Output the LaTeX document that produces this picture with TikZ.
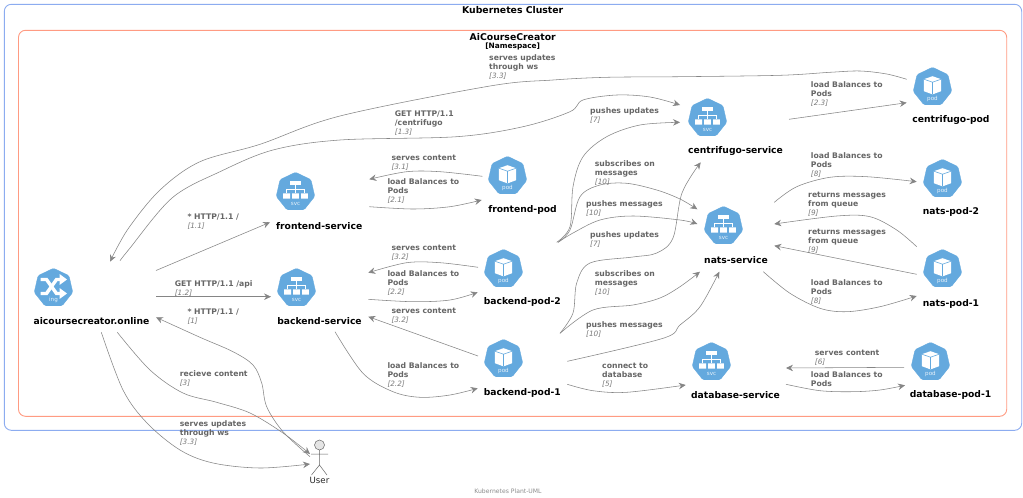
\documentclass[tikz,border=0pt]{standalone}
\usepackage{fontspec}
\setmainfont{DejaVu Sans}
\usetikzlibrary{arrows.meta,shapes.geometric,calc}
\definecolor{kblue}{HTML}{64A9DE}
\definecolor{frameblue}{HTML}{8CACF0}
\definecolor{framered}{HTML}{FF9B82}
\definecolor{edgegrey}{HTML}{858585}
\definecolor{lblgrey}{HTML}{666666}
\definecolor{numgrey}{HTML}{7A7A7A}
\newcommand\lnum[1]{\fontsize{7.3}{9}\selectfont\mdseries\itshape\color{numgrey}#1}
\newcommand\conn[5]{\draw[edge] plot[smooth,tension=.55] coordinates {([shift={(#2)}]#1.center) #3 ([shift={(#5)}]#4.center)};}
\newcommand\sconn[4]{\draw[edge] ([shift={(#2)}]#1.center) -- ([shift={(#4)}]#3.center);}
\tikzset{
  edge/.style={draw=edgegrey,line width=.55pt,-{Stealth[length=7pt,width=6.5pt,inset=2.4pt]}},
  ent/.style={regular polygon,regular polygon sides=7,minimum size=39.6pt,inner sep=0pt,outer sep=0pt,fill=kblue,draw=kblue,line width=.3pt,rounded corners=1.5pt},
  entlbl/.style={font=\fontsize{9.2}{12}\selectfont\bfseries,text=black,inner sep=0pt},
  elbl/.style={anchor=north west,align=left,inner sep=0pt,yshift=3.3pt,text=lblgrey,
     font=\fontsize{7.7}{9}\selectfont\bfseries,execute at begin node=\rule{0pt}{6.5pt}},
  frame/.style={rounded corners=7pt,line width=.9pt},
  gltxt/.style={font=\fontsize{5.6}{7}\selectfont,text=white!85!kblue,inner sep=0pt},
  svcglyph/.pic={
    \fill[white] (-5.3,-10.7) rectangle (5.3,-6.7);
    \draw[white,line width=.7pt] (0,-6.7)--(0,1.3) (-9,1.3)--(-9,-2.7)--(9,-2.7)--(9,1.3);
    \fill[white] (-12.3,1.3) rectangle (-5.5,6.5) (-3.4,1.3) rectangle (3.4,6.5) (5.5,1.3) rectangle (12.3,6.5);
    \node[gltxt] (t) at (0,12) {svc};
  },
  podglyph/.pic={
    \fill[white] (0,-10.8)--(8.6,-7.8)--(8.6,4.2)--(0,7.4)--(-8.6,4.2)--(-8.6,-7.8)--cycle;
    \draw[kblue,line width=.6pt] (-8.6,-7.8)--(0,-4.8)--(8.6,-7.8) (0,-4.8)--(0,7.4);
    \node[gltxt] (t) at (0,12) {pod};
  },
  ingglyph/.pic={
    \draw[white,line width=3.4pt] (-13,-8.5)--(-7,-8.5)--(3,5.5)--(8,5.5);
    \draw[white,line width=3.4pt] (-13,5.5)--(-7,5.5)--(3,-8.5)--(8,-8.5);
    \fill[white] (6,-14)--(13.5,-8.5)--(6,-3)--cycle (6,0)--(13.5,5.5)--(6,11)--cycle;
    \node[gltxt] (t) at (0,12.2) {ing};
  }
}
\begin{document}
\begin{tikzpicture}[x=1pt,y=-1pt]
\useasboundingbox (0,0) rectangle (1023,498);
\fill[white] (0,0) rectangle (1023,498);
\draw[frame,draw=frameblue] (4.3,4.3) rectangle (1021.7,430.3);
\draw[frame,draw=framered] (18.5,30.3) rectangle (1006.7,416.3);
\node[font=\fontsize{9.3}{12}\selectfont\bfseries,inner sep=0pt] (clustertitle) at (512.7,10.5) {Kubernetes Cluster};
\node[font=\fontsize{9.3}{12}\selectfont\bfseries,inner sep=0pt] (nstitle) at (512.7,37) {AiCourseCreator};
\node[font=\fontsize{7.4}{9}\selectfont\bfseries,inner sep=0pt] (nssub) at (512.7,46.5) {[Namespace]};
\node[font=\fontsize{6.1}{8}\selectfont,text=black!45,inner sep=0pt] (footer) at (508,491) {Kubernetes Plant-UML};

% entities
\node[ent] (ing) at (53.5,288) {};
\node[ent] (fs) at (295.5,192) {};
\node[ent] (bs) at (296.5,288) {};
\node[ent] (fp) at (507.5,176) {};
\node[ent] (bp2) at (503.5,269) {};
\node[ent] (bp1) at (503.5,359) {};
\node[ent] (cs) at (707.5,118) {};
\node[ent] (ns) at (723.5,226) {};
\node[ent] (db) at (711.5,362) {};
\node[ent] (cp) at (932.5,87) {};
\node[ent] (np2) at (942.5,179) {};
\node[ent] (np1) at (942.5,269) {};
\node[ent] (dp) at (930.5,362) {};
\pic (gi) at (ing.center) {ingglyph};
\pic (g1) at (fs.center) {svcglyph};
\pic (g2) at (bs.center) {svcglyph};
\pic (g3) at (cs.center) {svcglyph};
\pic (g4) at (ns.center) {svcglyph};
\pic (g5) at (db.center) {svcglyph};
\pic (p1) at (fp.center) {podglyph};
\pic (p2) at (bp2.center) {podglyph};
\pic (p3) at (bp1.center) {podglyph};
\pic (p4) at (cp.center) {podglyph};
\pic (p5) at (np2.center) {podglyph};
\pic (p6) at (np1.center) {podglyph};
\pic (p7) at (dp.center) {podglyph};
\node[entlbl] (ingL) at (91.5,320.7) {aicoursecreator.online};
\node[entlbl] (fsL) at (319.2,226) {frontend-service};
\node[entlbl] (bsL) at (319.5,320.7) {backend-service};
\node[entlbl] (fpL) at (522.5,210) {frontend-pod};
\node[entlbl] (bp2L) at (522.3,301.7) {backend-pod-2};
\node[entlbl] (bp1L) at (522.3,393.3) {backend-pod-1};
\node[entlbl] (csL) at (735.5,151) {centrifugo-service};
\node[entlbl] (nsL) at (736,259.7) {nats-service};
\node[entlbl] (dbL) at (735.5,395.3) {database-service};
\node[entlbl] (cpL) at (951,120.3) {centrifugo-pod};
\node[entlbl] (np2L) at (951,212) {nats-pod-2};
\node[entlbl] (np1L) at (951,303.7) {nats-pod-1};
\node[entlbl] (dpL) at (950.5,395.3) {database-pod-1};

% actor
\coordinate (user) at (319.5,460);
\draw[draw=black!60,fill=black!10,line width=.5pt] (319.5,445) circle (5);
\draw[draw=black!60,line width=.5pt] (319.5,450)--(319.5,465) (311,454)--(328,454) (311.5,475)--(319.5,465)--(327,475);
\node[font=\fontsize{8.6}{11}\selectfont,inner sep=0pt,text=black!85] (userL) at (319.5,480) {User};

% connectors
\sconn{ing}{102.5,-17.5}{fs}{-25.5,30.3}
\sconn{ing}{102.5,8.7}{bs}{-25.5,8.7}
\conn{user}{-9.5,-3.3}{(283,431.7) (266.7,406.7) (261.7,383) (253,365) (233,351.7) (200,337.3)}{ing}{102.5,29.3}
\conn{ing}{63.8,44.3}{(150,370) (183,393) (216.7,402.3) (250,413) (283,433)}{user}{-9.5,-6}
\conn{ing}{47.8,44.3}{(123,390) (147,423) (180,450) (213,463) (260,468)}{user}{-9.5,4}
\conn{cp}{-25.8,-7.7}{(886.7,74) (860,71) (830,72.3) (780,75.3) (680,76.7) (606.7,77.3) (553,80) (490,86) (340,116) (260,144.3) (200,161.7) (160,190) (128,229)}{ing}{56.5,-26.3}
\conn{ing}{66.5,-27.3}{(129,249.3) (172,198) (220,171.7) (273,150) (340,140) (456.7,136.7) (523,126.7) (570,111.7) (583,100) (616.7,95) (650,97)}{cs}{-27.5,-13}
\conn{fp}{-25.2,0.3}{(440,171.7) (406.7,171.7)}{fs}{73.8,-12.7}
\conn{fs}{73.8,14.7}{(413,209) (450,206.7)}{fp}{-25.8,24}
\conn{bp2}{-25.5,-1.7}{(440,262.7) (406.7,262.7)}{bs}{71.8,-15.3}
\conn{bs}{71.8,11.3}{(413,301.7) (450,300)}{bp2}{-25.8,23.3}
\sconn{bp1}{-25.5,-3}{bs}{71.8,28.7}
\conn{bs}{38.5,43.7}{(363,373.3) (393,391.7) (420,397.3) (450,395)}{bp1}{-25.8,29.3}
\conn{bp2}{53.2,-26.7}{(570,226.7) (573,186.7) (583,156.7) (606.7,136.7) (640,125)}{cs}{-27.5,4.3}
\conn{bp2}{54.5,-26.7}{(570,230) (580,196.7) (600,185) (626.7,183.3) (656.7,190) (680,199)}{ns}{-26.2,-16.7}
\conn{bp2}{54.5,-26.7}{(573,233) (600,220) (633,216) (680,220)}{ns}{-26.2,-2}
\conn{bp1}{56.5,-25.7}{(573,313) (576.7,283) (590,263) (633,257) (656.7,253) (673,238) (682,193)}{cs}{-6.8,44.3}
\conn{bp1}{56.5,-25.7}{(593,310) (633,305) (660,298) (680,286.7)}{ns}{-23.5,45.7}
\conn{bp1}{63.8,2.3}{(663,338.3) (680,325) (700,306.7)}{ns}{-4.2,45.7}
\conn{bp1}{63.8,25.3}{(593,390.7) (626.7,392.3)}{db}{-25.8,23}
\sconn{cs}{81.5,1.3}{cp}{-25.8,15.7}
\conn{ns}{50.8,-23.7}{(796.7,186.7) (830,177.3) (866.7,176.7)}{np2}{-25.8,2.7}
\conn{np1}{-25.8,-22.3}{(896.7,230) (870,216.7) (836.7,216)}{ns}{50.8,-2}
\sconn{np1}{-25.8,5.3}{ns}{50.8,19.7}
\conn{ns}{39.8,45.7}{(790,293.3) (820,308.3) (846.7,311.7) (880,306.7)}{np1}{-25.8,27}
\sconn{dp}{-26.5,5.3}{db}{74.5,6}
\conn{db}{74.5,22.3}{(820,390.7) (853,391.7) (880,390)}{dp}{-25.5,23.3}

% connector labels
\node[elbl] (l01) at (187.3,216.7) {* HTTP/1.1 /\\\lnum{[1.1]}};
\node[elbl] (l02) at (174.7,283.3) {GET HTTP/1.1 /api\\\lnum{[1.2]}};
\node[elbl] (l03) at (187.3,311.7) {* HTTP/1.1 /\\\lnum{[1]}};
\node[elbl] (l04) at (179.7,373.3) {recieve content\\\lnum{[3]}};
\node[elbl] (l05) at (179.7,423.3) {serves updates\\through ws\\\lnum{[3.3]}};
\node[elbl] (l06) at (489,57.7) {serves updates\\through ws\\\lnum{[3.3]}};
\node[elbl] (l07) at (394.7,114.3) {GET HTTP/1.1\\/centrifugo\\\lnum{[1.3]}};
\node[elbl] (l08) at (590,110.7) {pushes updates\\\lnum{[7]}};
\node[elbl] (l09) at (391.3,158.3) {serves content\\\lnum{[3.1]}};
\node[elbl] (l10) at (387.3,181.7) {load Balances to\\Pods\\\lnum{[2.1]}};
\node[elbl] (l11) at (594.7,163.3) {subscribes on\\messages\\\lnum{[10]}};
\node[elbl] (l12) at (586,204) {pushes messages\\\lnum{[10]}};
\node[elbl] (l13) at (590,234.7) {pushes updates\\\lnum{[7]}};
\node[elbl] (l14) at (391.3,248.3) {serves content\\\lnum{[3.2]}};
\node[elbl] (l15) at (387.3,274) {load Balances to\\Pods\\\lnum{[2.2]}};
\node[elbl] (l16) at (391.3,310.7) {serves content\\\lnum{[3.2]}};
\node[elbl] (l17) at (387.3,366) {load Balances to\\Pods\\\lnum{[2.2]}};
\node[elbl] (l18) at (594.7,274) {subscribes on\\messages\\\lnum{[10]}};
\node[elbl] (l19) at (586,324.7) {pushes messages\\\lnum{[10]}};
\node[elbl] (l20) at (602,366) {connect to\\database\\\lnum{[5]}};
\node[elbl] (l21) at (810.7,84.3) {load Balances to\\Pods\\\lnum{[2.3]}};
\node[elbl] (l22) at (810.7,155.3) {load Balances to\\Pods\\\lnum{[8]}};
\node[elbl] (l23) at (808,195) {returns messages\\from queue\\\lnum{[9]}};
\node[elbl] (l24) at (808,232) {returns messages\\from queue\\\lnum{[9]}};
\node[elbl] (l25) at (810.7,282.3) {load Balances to\\Pods\\\lnum{[8]}};
\node[elbl] (l26) at (814.7,353.3) {serves content\\\lnum{[6]}};
\node[elbl] (l27) at (810.7,374.3) {load Balances to\\Pods};
\end{tikzpicture}
\end{document}
